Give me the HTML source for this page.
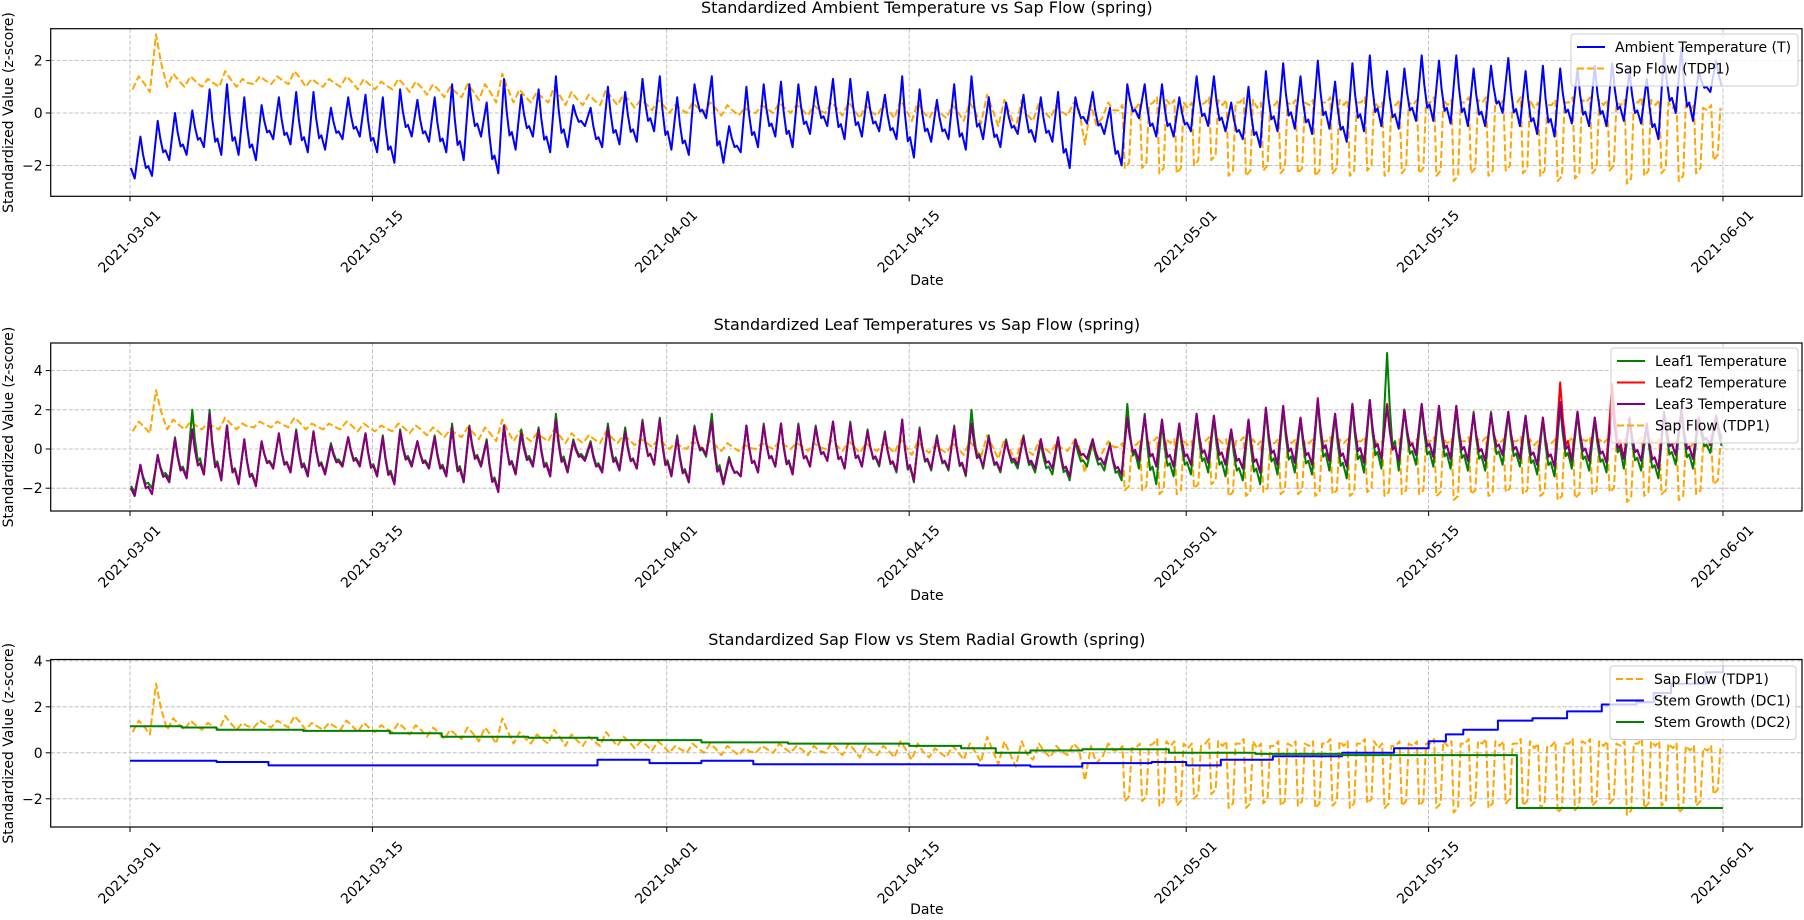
<!DOCTYPE html>
<html><head><meta charset="utf-8"><style>
html,body{margin:0;padding:0;background:#fff;}
svg{display:block;font-family:"DejaVu Sans","Liberation Sans",sans-serif;}
</style></head><body>
<svg id="chart" width="1804" height="920" viewBox="0 0 1804 920" xmlns="http://www.w3.org/2000/svg"></svg>
<script>
const tickDays=[0,14,31,45,61,75,92];
const tickLabels=["2021-03-01","2021-03-15","2021-04-01","2021-04-15","2021-05-01","2021-05-15","2021-06-01"];
const tMax=[-0.9,-0.3,0.0,0.1,0.9,1.1,0.6,0.3,0.6,0.8,0.8,0.2,0.6,0.7,0.6,0.9,0.5,0.6,1.1,1.1,0.4,1.3,0.7,0.9,1.4,0.3,0.2,1.0,0.8,1.3,1.4,0.6,1.1,1.4,-0.5,1.0,1.1,1.2,1.1,1.0,1.3,1.3,0.8,0.7,1.4,0.9,0.5,1.1,1.4,0.6,0.4,0.7,0.6,0.8,0.6,0.8,0.2,1.1,1.1,1.1,0.6,1.4,1.4,0.4,1.0,1.6,1.9,1.4,2.0,1.2,1.9,2.2,1.6,1.7,2.2,2.0,2.2,1.7,1.8,2.1,1.6,1.8,1.7,1.7,1.8,1.9,1.6,1.3,2.3,2.5,1.6,2.0];
const tMin=[-2.5,-2.4,-1.8,-1.6,-1.3,-1.6,-1.6,-1.8,-1.0,-1.2,-1.5,-1.4,-1.0,-0.9,-1.5,-1.9,-0.9,-1.1,-1.5,-1.8,-0.9,-2.3,-1.4,-0.9,-1.5,-1.3,-0.5,-1.3,-1.2,-1.1,-0.7,-1.4,-1.6,-0.2,-1.9,-1.5,-1.3,-0.9,-1.3,-0.8,-0.5,-1.0,-0.9,-0.7,-1.0,-1.7,-1.1,-1.0,-1.4,-1.0,-1.3,-0.8,-1.1,-1.1,-2.1,-0.4,-0.8,-2.0,-0.2,-0.9,-0.9,-0.7,-0.5,-0.7,-1.0,-1.3,-0.7,-0.6,-0.8,-0.6,-1.1,-0.7,-0.5,-0.6,-0.3,-0.3,-0.4,-0.5,-0.5,0.0,-0.5,-0.8,-0.9,-0.4,-0.5,-0.5,-0.3,-0.4,-1.0,0.0,-0.3,0.8];
const sapHigh=[1.4,3.0,1.5,1.4,1.3,1.6,1.3,1.4,1.4,1.6,1.3,1.3,1.4,1.3,1.2,1.3,1.2,1.1,1.0,1.1,1.1,1.5,0.9,0.8,1.0,0.8,0.7,0.9,0.7,0.5,0.5,0.3,0.4,0.4,0.3,0.2,0.3,0.4,0.3,0.3,0.4,0.4,0.3,0.3,0.5,0.4,0.2,0.3,0.4,0.7,0.5,0.5,0.4,0.3,0.4,0.3,0.4,0.3,0.4,0.6,0.5,0.4,0.6,0.5,0.6,0.4,0.5,0.5,0.5,0.6,0.5,0.6,0.4,0.5,0.5,0.6,0.5,0.6,0.6,0.5,0.6,0.4,0.5,0.6,0.6,0.5,0.5,0.6,0.5,0.4,0.3,0.3];
const sapLow=[0.9,0.8,1.0,1.0,1.0,1.0,1.0,1.1,1.1,1.1,1.0,1.0,1.0,0.9,0.9,0.9,0.8,0.7,0.6,0.6,0.5,0.4,0.4,0.4,0.4,0.3,0.3,0.3,0.3,0.2,0.1,0.0,0.0,0.0,-0.1,-0.1,0.0,0.0,0.0,-0.1,0.0,-0.1,-0.2,-0.1,-0.2,-0.3,-0.2,-0.2,-0.3,-0.4,-0.5,-0.6,-0.3,-0.2,-0.1,-1.2,-0.2,-2.1,-2.1,-2.3,-2.3,-2.0,-1.8,-2.4,-2.4,-2.2,-2.3,-2.3,-2.4,-2.3,-2.4,-2.2,-2.4,-2.3,-2.3,-2.4,-2.6,-2.3,-2.4,-2.2,-2.3,-2.4,-2.6,-2.5,-2.3,-2.2,-2.7,-2.4,-2.3,-2.6,-2.3,-1.8];
const leaf3Max=[-0.8,-0.3,0.5,1.0,1.8,1.2,0.5,0.4,0.8,0.9,0.9,0.2,0.6,0.8,0.6,0.9,0.4,0.6,1.1,1.1,0.4,1.2,0.8,1.0,1.5,0.4,0.3,1.1,0.9,1.4,1.5,0.6,1.1,1.4,-0.5,1.2,1.2,1.3,1.2,1.1,1.4,1.3,0.9,0.8,1.5,1.0,0.6,1.1,1.3,0.6,0.4,0.6,0.5,0.6,0.5,0.5,0.2,1.6,1.7,1.5,1.3,1.8,1.7,1.0,1.5,2.1,2.2,1.6,2.5,1.8,2.3,2.5,2.2,2.0,2.3,2.2,2.2,1.8,1.8,1.9,1.7,1.6,2.4,1.9,1.6,2.2,1.6,1.3,1.9,2.0,1.6,1.7];
const leaf3Min=[-2.4,-2.3,-1.7,-1.5,-1.3,-1.6,-1.8,-1.9,-1.0,-1.2,-1.4,-1.3,-0.9,-0.9,-1.4,-1.8,-0.9,-1.0,-1.4,-1.7,-0.9,-2.2,-1.3,-0.9,-1.4,-1.2,-0.6,-1.2,-1.1,-1.0,-0.8,-1.4,-1.7,-0.3,-1.8,-1.4,-1.2,-0.9,-1.3,-0.9,-0.6,-1.0,-0.9,-0.8,-1.1,-1.6,-1.0,-1.0,-1.3,-0.9,-1.1,-0.8,-1.0,-1.0,-1.4,-0.5,-0.8,-1.3,-0.6,-0.9,-0.9,-0.8,-0.7,-0.8,-1.0,-1.2,-0.8,-0.7,-0.8,-0.6,-0.9,-0.7,-0.5,-0.6,-0.3,-0.4,-0.5,-0.6,-0.6,-0.3,-0.5,-0.8,-0.9,-0.6,-0.6,-0.7,-0.5,-0.6,-1.0,-0.3,-0.5,0.2];
const leaf2Max=[-0.8,-0.3,0.5,1.0,1.7,1.2,0.5,0.4,0.8,0.9,0.9,0.2,0.6,0.8,0.6,0.9,0.4,0.6,1.1,1.1,0.4,1.2,0.8,1.0,1.5,0.4,0.3,1.1,0.9,1.4,1.5,0.6,1.1,1.4,-0.5,1.2,1.2,1.3,1.2,1.1,1.4,1.3,0.9,0.8,1.5,1.0,0.6,1.1,1.3,0.6,0.4,0.6,0.5,0.6,0.5,0.5,0.2,1.6,1.7,1.5,1.3,1.8,1.7,1.0,1.5,2.1,2.2,1.6,2.6,1.8,2.3,2.5,2.3,2.0,2.3,2.2,2.2,1.8,1.8,1.9,1.7,1.6,3.4,1.9,1.6,3.3,1.6,1.3,1.9,2.0,1.6,1.7];
const leaf2Min=[-2.4,-2.3,-1.7,-1.5,-1.3,-1.6,-1.8,-1.9,-1.0,-1.2,-1.4,-1.3,-0.9,-0.9,-1.4,-1.8,-0.9,-1.0,-1.4,-1.7,-0.9,-2.2,-1.3,-0.9,-1.4,-1.2,-0.6,-1.2,-1.1,-1.0,-0.8,-1.4,-1.7,-0.3,-1.8,-1.4,-1.2,-0.9,-1.3,-0.9,-0.6,-1.0,-0.9,-0.8,-1.1,-1.6,-1.0,-1.0,-1.3,-0.9,-1.1,-0.8,-1.0,-1.0,-1.4,-0.5,-0.8,-1.3,-0.6,-0.9,-0.9,-0.8,-0.7,-0.8,-1.0,-1.2,-0.8,-0.7,-0.8,-0.6,-0.9,-0.7,-0.5,-0.6,-0.3,-0.4,-0.5,-0.6,-0.6,-0.3,-0.5,-0.8,-0.9,-0.6,-0.6,-0.7,-0.5,-0.6,-1.0,-0.3,-0.5,0.2];
const leaf1Max=[-0.9,-0.4,0.6,2.0,2.0,1.2,0.4,0.3,0.7,1.0,0.9,0.3,0.6,0.8,0.7,1.0,0.4,0.7,1.3,1.2,0.5,1.2,1.0,1.1,1.8,0.5,0.4,1.3,1.1,1.5,1.6,0.7,1.2,1.8,-0.4,1.2,1.3,1.3,1.3,1.2,1.4,1.4,1.0,0.9,1.5,1.1,0.7,1.2,2.0,0.7,0.5,0.7,0.3,0.5,0.4,0.4,0.3,2.3,1.8,1.3,1.2,1.7,1.6,0.9,1.4,2.0,2.1,1.5,2.4,1.7,2.2,2.4,4.9,2.0,2.2,2.1,2.1,1.9,1.9,1.8,1.6,1.5,2.2,1.8,1.5,3.1,1.5,1.2,1.8,1.9,1.5,1.6];
const leaf1Min=[-2.2,-2.0,-1.5,-1.4,-1.3,-1.5,-1.7,-1.8,-0.9,-1.1,-1.3,-1.2,-0.8,-0.8,-1.3,-1.7,-0.8,-0.9,-1.3,-1.6,-0.8,-2.1,-1.2,-0.8,-1.3,-1.1,-0.5,-1.1,-1.0,-1.0,-0.8,-1.3,-1.6,-0.4,-1.7,-1.4,-1.2,-0.9,-1.2,-0.9,-0.6,-1.0,-0.9,-0.9,-1.2,-1.7,-1.1,-1.1,-1.4,-1.0,-1.2,-1.0,-1.2,-1.3,-1.6,-0.9,-1.1,-1.6,-1.0,-1.8,-1.4,-1.3,-1.2,-1.4,-1.6,-1.8,-1.3,-1.2,-1.3,-1.1,-1.5,-1.2,-1.0,-1.1,-0.8,-0.9,-1.0,-1.1,-1.1,-0.8,-0.9,-1.3,-1.4,-1.0,-1.1,-1.2,-1.0,-1.1,-1.5,-0.8,-1.0,-0.2];
const dc1Days=[0,5,8,26,27,30,33,36,49,52,55,59,61,63,66,70,73,75,76,77,79,81,83,85,87,88,89,91,92];
const dc1Vals=[-0.35,-0.4,-0.55,-0.55,-0.3,-0.45,-0.35,-0.5,-0.55,-0.6,-0.45,-0.4,-0.55,-0.3,-0.15,0.0,0.2,0.5,0.8,1.0,1.4,1.5,1.8,2.1,2.2,2.6,3.0,3.5,3.8];
const dc2Days=[0,3,5,10,15,18,23,27,33,38,45,48,50,52,55,60,65,70,79,80.1,92];
const dc2Vals=[1.15,1.1,1.0,0.95,0.85,0.7,0.65,0.55,0.45,0.4,0.3,0.2,0.0,0.1,0.15,0.0,-0.05,-0.1,-0.1,-2.4,-2.4];

const NS="http://www.w3.org/2000/svg";
const svg=document.getElementById('chart');
const L=50.7,R=1803;
function X(d){return 130+d*17.315;}
function mk(tag,attrs,parent){const e=document.createElementNS(NS,tag);for(const k in attrs)e.setAttribute(k,attrs[k]);(parent||svg).appendChild(e);return e;}
function dailyPts(mx,mn){const p=[];for(let d=0;d<mx.length;d++){const nm=d+1<mn.length?mn[d+1]:mn[d];p.push([d+0.05,(mn[d]+(d>0?mx[d-1]:mx[d]))/2*0.5+mn[d]*0.5]);p.push([d+0.27,mn[d]]);p.push([d+0.45,mn[d]+(mx[d]-mn[d])*0.55]);p.push([d+0.6,mx[d]]);p.push([d+0.75,mx[d]-(mx[d]-nm)*0.45]);p.push([d+0.92,nm+(mx[d]-nm)*0.2]);}return p;}
function sapPts(){const p=[];for(let d=0;d<sapHigh.length;d++){if(d<57){p.push([d+0.15,sapLow[d]]);p.push([d+0.5,sapHigh[d]]);p.push([d+0.8,(sapHigh[d]+sapLow[d])/2]);}else{p.push([d+0.1,sapHigh[d]-0.2]);p.push([d+0.32,sapHigh[d]]);p.push([d+0.45,sapLow[d]]);p.push([d+0.7,sapLow[d]+0.2]);p.push([d+0.85,sapHigh[d]-0.1]);}}return p;}
function stepPts(days,vals){const p=[];for(let i=0;i<days.length;i++){if(i>0)p.push([days[i],vals[i-1]]);p.push([days[i],vals[i]]);}return p;}
function line(pts,Y,color,dash,name,g){const el=mk('polyline',{points:pts.map(q=>X(q[0]).toFixed(1)+','+Y(q[1]).toFixed(1)).join(' '),fill:'none',stroke:color,'stroke-width':2,'stroke-linejoin':'round'},g);if(dash)el.setAttribute('stroke-dasharray',dash);


return el;}

const panels=[
 {top:28.7,bot:196.3,zero:113,ppu:26.2,yt:[-2,0,2],title:"Standardized Ambient Temperature vs Sap Flow (spring)",ty:13,lab:242,dy:289,key:'ambient'},
 {top:343,bot:511,zero:449,ppu:19.6,yt:[-2,0,2,4],title:"Standardized Leaf Temperatures vs Sap Flow (spring)",ty:330,lab:557,dy:604,key:'leaf'},
 {top:659.5,bot:827,zero:752.8,ppu:23.0,yt:[-2,0,2,4],title:"Standardized Sap Flow vs Stem Radial Growth (spring)",ty:645,lab:873,dy:918,key:'stem'}
];
panels.forEach((P,i)=>{
 const g=mk('g',{});
 
 
 const Y=v=>P.zero-v*P.ppu;
 const cid='clip'+i;const cp=mk('clipPath',{id:cid},g);mk('rect',{x:L,y:P.top,width:R-L,height:P.bot-P.top},cp);
 tickDays.forEach((d,k)=>{
  const gl=mk('line',{x1:X(d),x2:X(d),y1:P.top,y2:P.bot,stroke:'#b0b0b0','stroke-width':0.8,'stroke-dasharray':'4,2'},g);
  
  
  mk('line',{x1:X(d),x2:X(d),y1:P.bot,y2:P.bot+5,stroke:'#000','stroke-width':1},g);
  const t=mk('text',{x:X(d),y:P.lab,'font-size':14,'text-anchor':'middle','dominant-baseline':'middle',transform:`rotate(-45 ${X(d)} ${P.lab})`},g);
  t.textContent=tickLabels[k];
  
  
 });
 P.yt.forEach(v=>{
  const gl=mk('line',{x1:L,x2:R,y1:Y(v),y2:Y(v),stroke:'#b0b0b0','stroke-width':0.8,'stroke-dasharray':'4,2'},g);
  
  
  mk('line',{x1:L-5,x2:L,y1:Y(v),y2:Y(v),stroke:'#000'},g);
  const t=mk('text',{x:L-8,y:Y(v)+5,'font-size':14,'text-anchor':'end'},g);
  t.textContent=v<0?'\u2212'+(-v):String(v);
  
  
 });
 const sg=mk('g',{'clip-path':`url(#${cid})`},g);
 if(i===0){line(sapPts(),Y,'orange','7,3','sap-flow-line',sg);line(dailyPts(tMax,tMin),Y,'blue',null,'ambient-temperature-line',sg);}
 if(i===1){line(sapPts(),Y,'orange','7,3','sap-flow-line',sg);line(dailyPts(leaf1Max,leaf1Min),Y,'green',null,'leaf1-line',sg);line(dailyPts(leaf2Max,leaf2Min),Y,'red',null,'leaf2-line',sg);line(dailyPts(leaf3Max,leaf3Min),Y,'purple',null,'leaf3-line',sg);}
 if(i===2){line(sapPts(),Y,'orange','7,3','sap-flow-line',sg);line(stepPts(dc1Days,dc1Vals),Y,'blue',null,'stem-growth-dc1-line',sg);line(stepPts(dc2Days,dc2Vals),Y,'green',null,'stem-growth-dc2-line',sg);}
 const fr=mk('rect',{x:L,y:P.top,width:R-L-1,height:P.bot-P.top,fill:'none',stroke:'#000','stroke-width':1.2},g);
 
 
 const tt=mk('text',{x:(L+R)/2,y:P.ty,'font-size':16,'text-anchor':'middle'},g);tt.textContent=P.title;
 
 
 const xl=mk('text',{x:(L+R)/2,y:P.dy-4,'font-size':14,'text-anchor':'middle'},g);xl.textContent='Date';
 
 
 const cy=(P.top+P.bot)/2;
 const yl=mk('text',{x:13,y:cy,'font-size':14,'text-anchor':'middle',transform:`rotate(-90 13 ${cy})`},g);yl.textContent='Standardized Value (z-score)';
 
 
 // legend
 let items,lx,ly,lw;
 if(i===0){items=[['Ambient Temperature (T)','blue',null],['Sap Flow (TDP1)','orange','7,3']];lx=1571;ly=34;lw=227;}
 if(i===1){items=[['Leaf1 Temperature','green',null],['Leaf2 Temperature','red',null],['Leaf3 Temperature','purple',null],['Sap Flow (TDP1)','orange','7,3']];lx=1611;ly=348;lw=187;}
 if(i===2){items=[['Sap Flow (TDP1)','orange','7,3'],['Stem Growth (DC1)','blue',null],['Stem Growth (DC2)','green',null]];lx=1610;ly=666;lw=186;}
 const lg=mk('g',{},g);
 
 
 mk('rect',{x:lx,y:ly,width:lw,height:items.length*21.5+9,rx:3,fill:'#fff','fill-opacity':0.8,stroke:'#ccc'},lg);
 items.forEach((it,k)=>{
  const yy=ly+13+k*21.5;
  const ll=mk('line',{x1:lx+6,x2:lx+34,y1:yy,y2:yy,stroke:it[1],'stroke-width':2},lg);
  if(it[2])ll.setAttribute('stroke-dasharray',it[2]);
  const tx=mk('text',{x:lx+44,y:yy+5,'font-size':14},lg);tx.textContent=it[0];
  
  
 });
});
</script>
</body></html>
